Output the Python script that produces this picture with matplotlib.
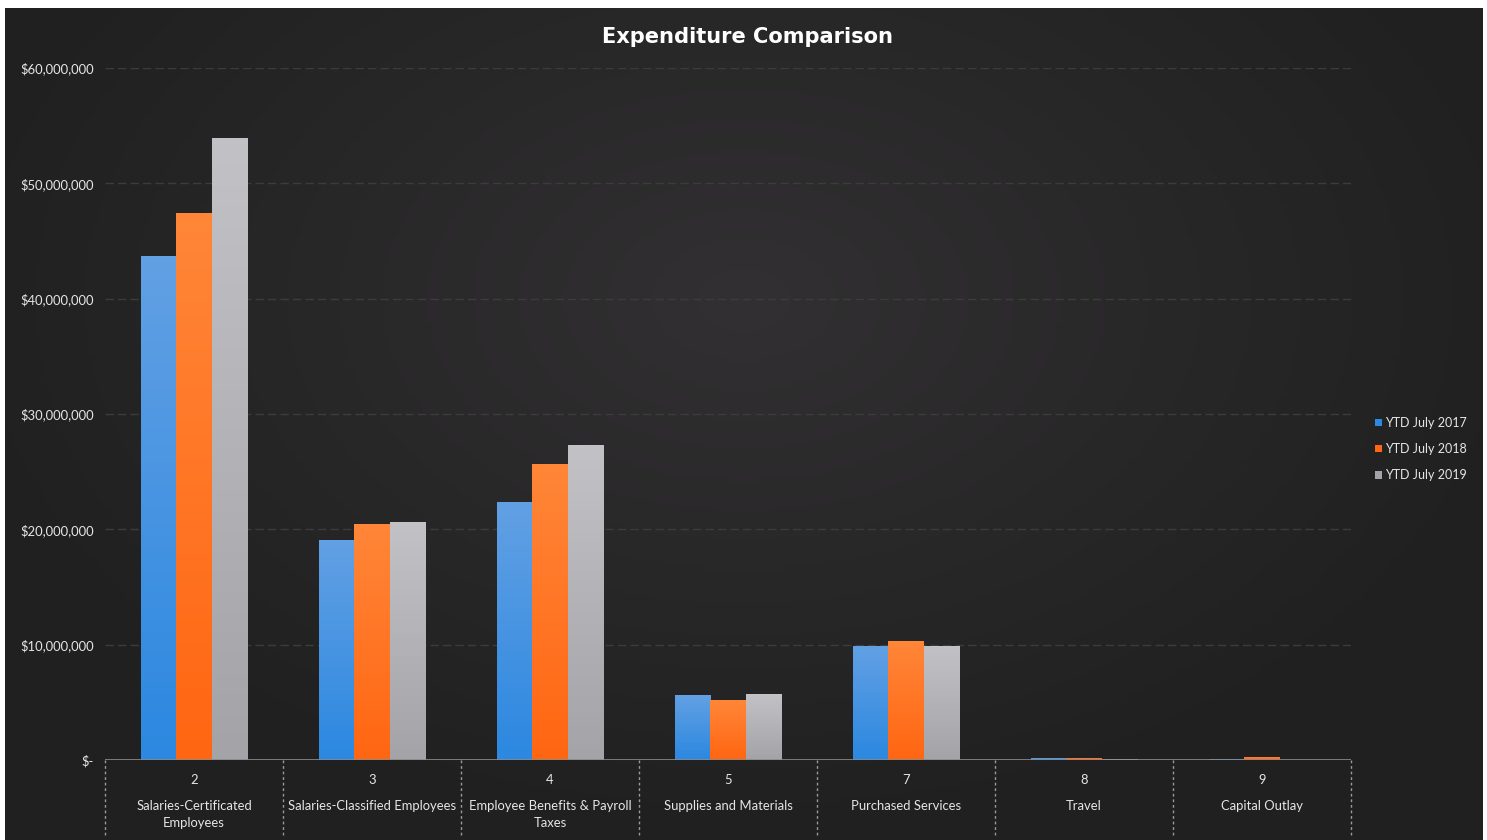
import numpy as np
import matplotlib
matplotlib.use("Agg")
import matplotlib.pyplot as plt
from matplotlib.colors import LinearSegmentedColormap
from matplotlib.ticker import FuncFormatter

codes = ["2", "3", "4", "5", "7", "8", "9"]
categories = ["Salaries-Certificated\nEmployees", "Salaries-Classified Employees",
              "Employee Benefits & Payroll\nTaxes", "Supplies and Materials",
              "Purchased Services", "Travel", "Capital Outlay"]
series = ["YTD July 2017", "YTD July 2018", "YTD July 2019"]
ytd_2017 = [43_700_000, 19_100_000, 22_400_000, 5_600_000, 9_900_000, 150_000, 90_000]
ytd_2018 = [47_400_000, 20_500_000, 25_700_000, 5_200_000, 10_300_000, 200_000, 280_000]
ytd_2019 = [53_900_000, 20_600_000, 27_300_000, 5_700_000, 9_900_000, 50_000, 30_000]

# (top colour, bottom colour) of each series' bar gradient
SHADES = [("#62a0e4", "#2c88e0"), ("#ff8638", "#ff6612"), ("#c2c2c6", "#a4a4a8")]
TXT = "#e6e6e6"
FONT = "Lato"

fig = plt.figure(figsize=(14.87, 8.4), dpi=100, facecolor="white")

# dark panel with a soft radial lightening toward the middle
bg = fig.add_axes([5 / 1487, 0, 1478 / 1487, 832 / 840])
yy, xx = np.mgrid[-1:1:200j, -1:1:350j]
r = np.sqrt((xx / 1.1) ** 2 + ((yy + 0.3) / 1.3) ** 2)
bg_cmap = LinearSegmentedColormap.from_list("panel", ["#323032", "#202020"])
bg.imshow(np.clip(r, 0, 1), cmap=bg_cmap, aspect="auto", extent=[0, 1, 0, 1], vmin=0, vmax=1)
bg.set_axis_off()

ax = fig.add_axes([105 / 1487, 80 / 840, 1246 / 1487, 692 / 840])
ax.patch.set_alpha(0)

x = np.arange(len(codes))
w = 0.2
grad = np.linspace(1, 0, 64).reshape(-1, 1)
for i, (vals, (top, bot)) in enumerate(zip([ytd_2017, ytd_2018, ytd_2019], SHADES)):
    bars = ax.bar(x + (i - 1) * w, vals, w, color=bot, zorder=2, label=series[i])
    cmap = LinearSegmentedColormap.from_list(f"s{i}", [bot, top])
    for b in bars:
        x0, y0 = b.get_x(), b.get_y()
        im = ax.imshow(grad, cmap=cmap, aspect="auto", zorder=3, interpolation="bilinear",
                       extent=[x0, x0 + b.get_width(), y0, y0 + b.get_height()])
        im.set_clip_path(b)

ax.set_xlim(-0.5, len(codes) - 0.5)
ax.set_ylim(0, 60_000_000)
ax.set_yticks(np.arange(0, 60_000_001, 10_000_000))
ax.yaxis.set_major_formatter(FuncFormatter(lambda v, _: "$-" if v == 0 else f"${v:,.0f}"))
ax.tick_params(axis="y", length=0, pad=8, labelsize=9.4, labelcolor=TXT)
for lab in ax.get_yticklabels():
    lab.set_fontfamily(FONT)
ax.set_xticks([])
ax.grid(axis="y", color="#3c3c3c", lw=1, ls=(0, (6, 3)), zorder=0)
for sp in ax.spines.values():
    sp.set_visible(False)
ax.axhline(0, color="#8a8a8a", lw=1.2, zorder=4)

# table-style category axis: code on top, name below, dashed dividers
tr = ax.get_xaxis_transform()
for xi, code, name in zip(x, codes, categories):
    ax.text(xi, -0.029, code, transform=tr, ha="center", va="center", fontsize=9.4,
            color=TXT, family=FONT)
    ax.text(xi, -0.058, name, transform=tr, ha="center", va="top", fontsize=9.4,
            color=TXT, family=FONT, linespacing=1.45)
for xb in np.arange(-0.5, len(codes), 1.0):
    ax.plot([xb, xb], [0, -0.11], transform=tr, color="#9a9a9a", lw=1,
            ls=(0, (2, 2)), clip_on=False)

fig.text(747 / 1487, 1 - 37 / 840, "Expenditure Comparison", ha="center", va="center",
         fontsize=15.1, fontweight="bold", color="white", family="DejaVu Sans")

leg = fig.legend(loc="center left", bbox_to_anchor=(1364 / 1487, 1 - 449 / 840),
                 frameon=False, handlelength=0.5, handleheight=0.5,
                 handletextpad=0.3, labelspacing=1.15, prop={"family": FONT, "size": 9})
for t in leg.get_texts():
    t.set_color(TXT)

fig.savefig("out.png", dpi=100, facecolor=fig.get_facecolor())
